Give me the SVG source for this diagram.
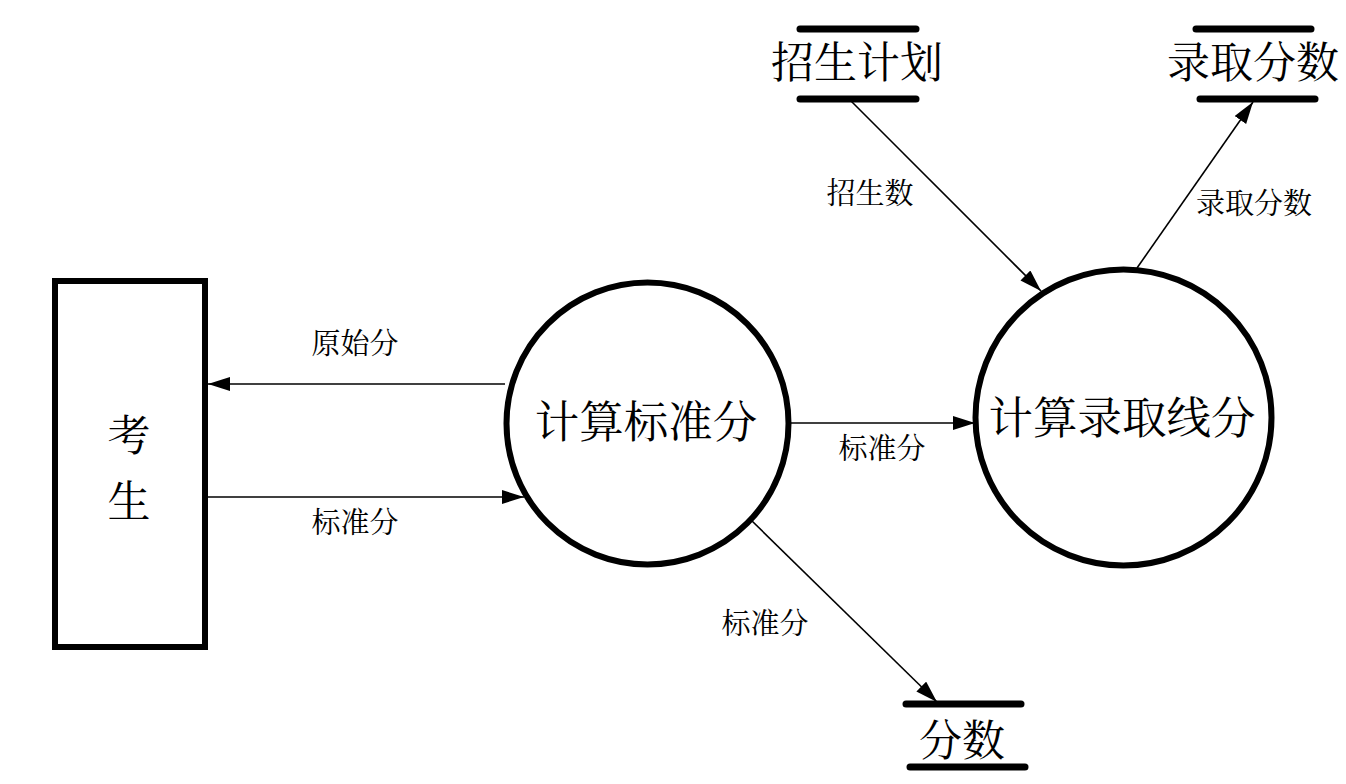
<svg xmlns="http://www.w3.org/2000/svg" width="1346" height="784" viewBox="0 0 1346 784">
<defs>
<style>
.t{font-family:"Noto Serif CJK SC","Noto Sans CJK SC",sans-serif;fill:#000;text-anchor:middle}
.big{font-size:43px}
.lbl{font-size:29px}
.box{fill:#fff;stroke:#000;stroke-width:6}
.bar{stroke:#000;stroke-width:7;stroke-linecap:round}
.conn{stroke:#000;stroke-width:1.6;fill:none;marker-end:url(#ah)}
</style>
<marker id="ah" markerUnits="userSpaceOnUse" markerWidth="24" markerHeight="16" refX="22" refY="7" orient="auto">
<path d="M0,0 L22,7 L0,14 z" fill="#000"/>
</marker>
</defs>
<rect width="1346" height="784" fill="#fff"/>
<g id="connectors">
<line class="conn" x1="505" y1="384" x2="208" y2="384"/>
<line class="conn" x1="208" y1="497" x2="524" y2="497"/>
<line class="conn" x1="790" y1="423" x2="975" y2="423"/>
<line class="conn" x1="752" y1="521" x2="937" y2="702"/>
<line class="conn" x1="850" y1="100" x2="1041" y2="291"/>
<line class="conn" x1="1137" y1="268" x2="1253" y2="102"/>
<text class="t lbl" x="355" y="354">原始分</text>
<text class="t lbl" x="355" y="533">标准分</text>
<text class="t lbl" x="882" y="459">标准分</text>
<text class="t lbl" x="765" y="634">标准分</text>
<text class="t lbl" x="870" y="204">招生数</text>
<text class="t lbl" x="1254" y="214">录取分数</text>
</g>
<g id="n-kaosheng">
<rect class="box" x="55" y="281" width="150" height="366"/>
<text class="t big" x="129" y="451">考</text>
<text class="t big" x="129" y="517">生</text>
</g>
<g id="n-jisuanbiaozhunfen">
<circle class="box" cx="647.5" cy="423.5" r="141"/>
<text class="t" style="font-size:44.5px" x="646" y="438">计算标准分</text>
</g>
<g id="n-jisuanluquxianfen">
<circle class="box" cx="1123.5" cy="417.5" r="148"/>
<text class="t" style="font-size:44.5px" x="1122" y="434">计算录取线分</text>
</g>
<g id="n-zhaoshengjihua">
<line class="bar" x1="800" y1="29" x2="916" y2="29"/>
<line class="bar" x1="800" y1="99" x2="916" y2="99"/>
<text class="t big" x="857" y="78">招生计划</text>
</g>
<g id="n-luqufenshu">
<line class="bar" x1="1196" y1="29" x2="1311" y2="29"/>
<line class="bar" x1="1200" y1="99" x2="1315" y2="99"/>
<text class="t big" x="1253" y="78">录取分数</text>
</g>
<g id="n-fenshu">
<line class="bar" x1="906" y1="704" x2="1021" y2="704"/>
<line class="bar" x1="910" y1="767" x2="1025" y2="767"/>
<text class="t big" x="962" y="756">分数</text>
</g>
</svg>
